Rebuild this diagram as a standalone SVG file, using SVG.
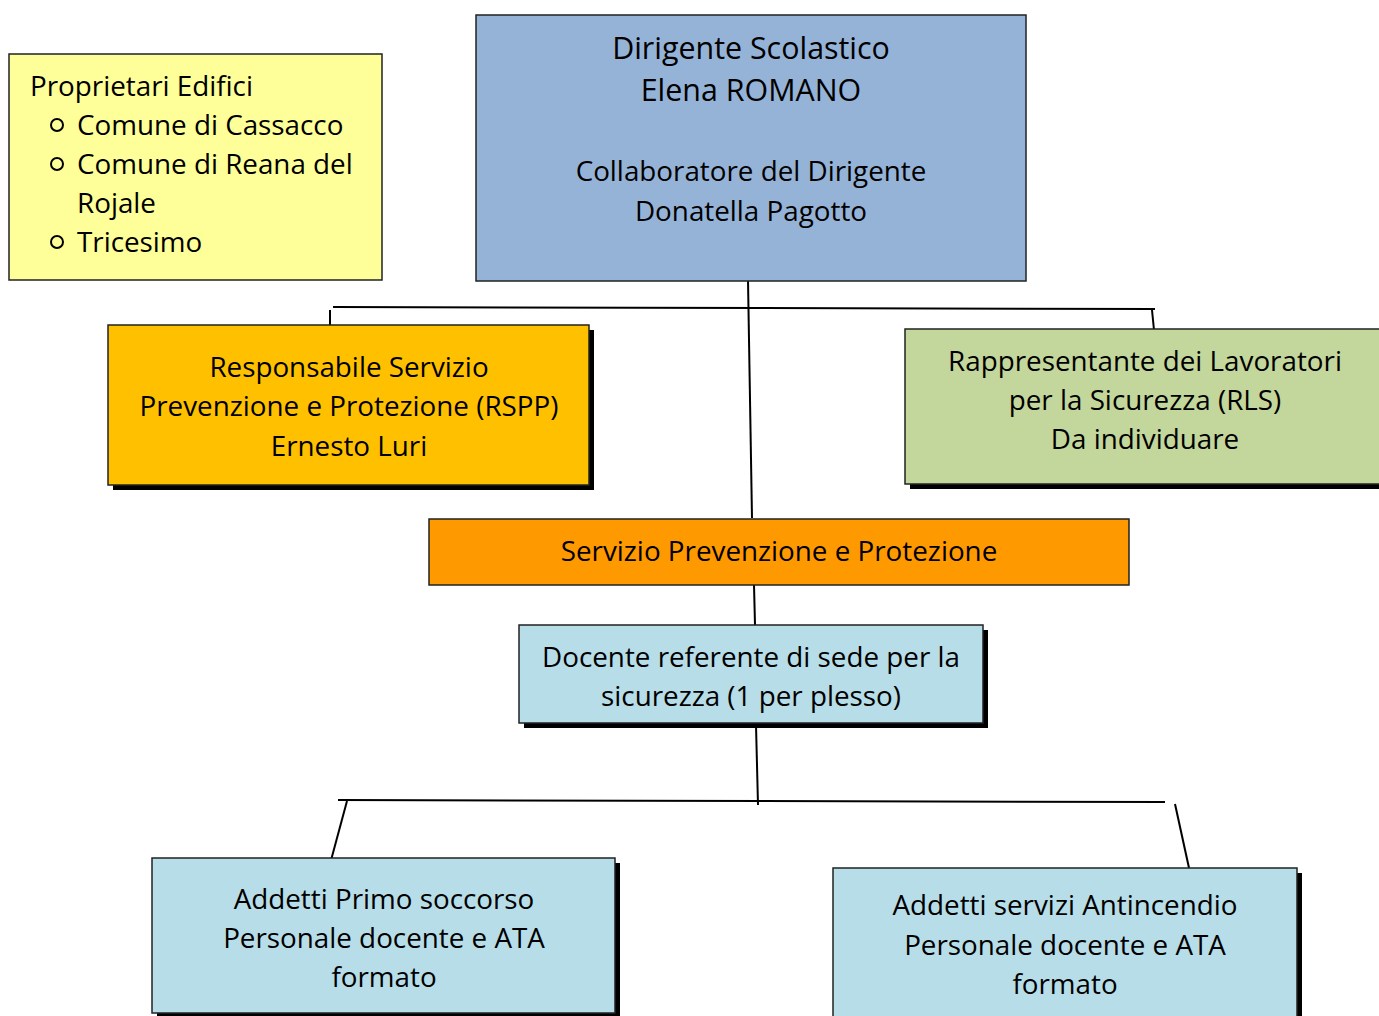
<svg xmlns="http://www.w3.org/2000/svg" width="1379" height="1016" viewBox="0 0 1379 1016">
<style>
text{font-family:"Open Sans","Noto Sans","Liberation Sans",sans-serif;font-size:27.8px;fill:#000}
.c{text-anchor:middle}
.big{font-size:30.4px}
.box{stroke:#222;stroke-width:1.5}
.sh{fill:#000}
.ln{stroke:#000;stroke-width:2;fill:none}
</style>
<rect width="1379" height="1016" fill="#fff"/>
<g id="connectors">
<line class="ln" x1="748" y1="280" x2="752" y2="518"/>
<line class="ln" x1="333" y1="307" x2="1155" y2="309"/>
<line class="ln" x1="330" y1="310" x2="330" y2="325"/>
<line class="ln" x1="1152" y1="310" x2="1154" y2="330"/>
<line class="ln" x1="754" y1="585" x2="755" y2="625"/>
<line class="ln" x1="756" y1="725" x2="758" y2="805"/>
<line class="ln" x1="338" y1="800" x2="1165" y2="802"/>
<line class="ln" x1="347" y1="801" x2="330" y2="864"/>
<line class="ln" x1="1175" y1="804" x2="1189" y2="868"/>
</g>
<g id="proprietari">
<rect class="box" x="9" y="54" width="373" height="226" fill="#FFFF99"/>
<text x="30" y="96">Proprietari Edifici</text>
<circle cx="57" cy="125" r="6" fill="none" stroke="#000" stroke-width="2"/>
<text x="77" y="135">Comune di Cassacco</text>
<circle cx="57" cy="164" r="6" fill="none" stroke="#000" stroke-width="2"/>
<text x="77" y="174">Comune di Reana del</text>
<text x="77" y="213">Rojale</text>
<circle cx="57" cy="242" r="6" fill="none" stroke="#000" stroke-width="2"/>
<text x="77" y="252">Tricesimo</text>
</g>
<g id="dirigente">
<rect class="box" x="476" y="15" width="550" height="266" fill="#95B3D7"/>
<text class="c big" x="751" y="59">Dirigente Scolastico</text>
<text class="c big" x="751" y="101">Elena ROMANO</text>
<text class="c" x="751" y="181">Collaboratore del Dirigente</text>
<text class="c" x="751" y="221">Donatella Pagotto</text>
</g>
<g id="rspp">
<rect class="sh" x="113" y="330" width="481" height="160"/>
<rect class="box" x="108" y="325" width="481" height="160" fill="#FFC000"/>
<text class="c" x="349" y="377">Responsabile Servizio</text>
<text class="c" x="349" y="416">Prevenzione e Protezione (RSPP)</text>
<text class="c" x="349" y="456">Ernesto Luri</text>
</g>
<g id="rls">
<rect class="sh" x="910" y="334" width="480" height="155"/>
<rect class="box" x="905" y="329" width="480" height="155" fill="#C3D69B"/>
<text class="c" x="1145" y="371">Rappresentante dei Lavoratori</text>
<text class="c" x="1145" y="410">per la Sicurezza (RLS)</text>
<text class="c" x="1145" y="449">Da individuare</text>
</g>
<g id="spp">
<rect class="box" x="429" y="519" width="700" height="66" fill="#FF9900"/>
<text class="c" x="779" y="561">Servizio Prevenzione e Protezione</text>
</g>
<g id="docente">
<rect class="sh" x="524" y="630" width="464" height="98"/>
<rect class="box" x="519" y="625" width="464" height="98" fill="#B7DDE8"/>
<text class="c" x="751" y="667">Docente referente di sede per la</text>
<text class="c" x="751" y="706">sicurezza (1 per plesso)</text>
</g>
<g id="primo-soccorso">
<rect class="sh" x="157" y="863" width="463" height="155"/>
<rect class="box" x="152" y="858" width="463" height="155" fill="#B7DDE8"/>
<text class="c" x="384" y="909">Addetti Primo soccorso</text>
<text class="c" x="384" y="948">Personale docente e ATA</text>
<text class="c" x="384" y="987">formato</text>
</g>
<g id="antincendio">
<rect class="sh" x="838" y="873" width="464" height="160"/>
<rect class="box" x="833" y="868" width="464" height="160" fill="#B7DDE8"/>
<text class="c" x="1065" y="915">Addetti servizi Antincendio</text>
<text class="c" x="1065" y="955">Personale docente e ATA</text>
<text class="c" x="1065" y="994">formato</text>
</g>
</svg>
